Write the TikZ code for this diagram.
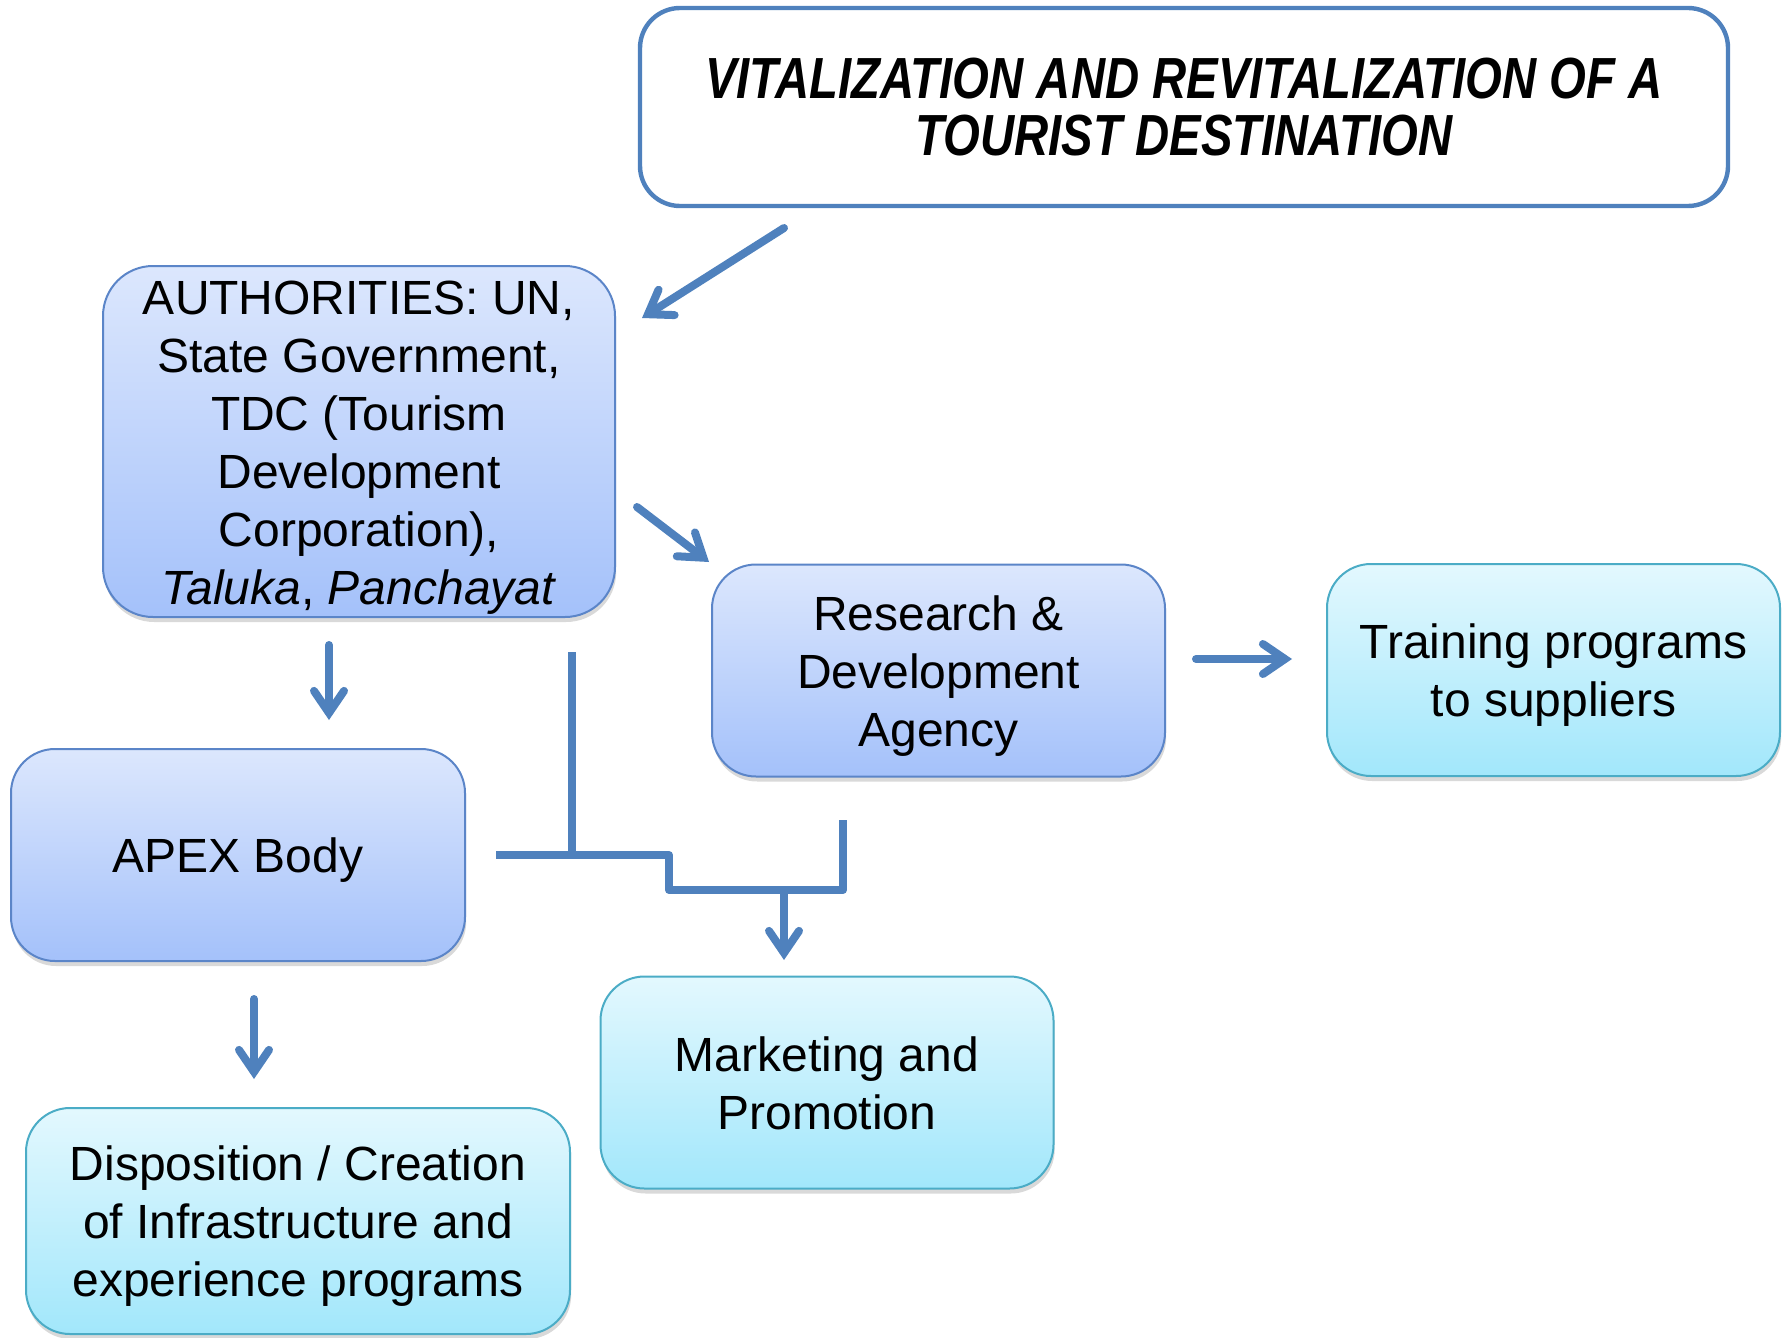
\documentclass[tikz,border=0pt]{standalone}
\usepackage{fontspec}
\setmainfont{Liberation Sans}
\newfontfamily\titlefont[FakeStretch=0.815]{Liberation Sans}
\usetikzlibrary{arrows.meta,shadows}
\definecolor{lineblue}{HTML}{4F81BD}
\definecolor{btop}{HTML}{DCE7FD}
\definecolor{bbot}{HTML}{A4C1FA}
\definecolor{bbord}{HTML}{5B85C8}
\definecolor{ctop}{HTML}{E3F8FE}
\definecolor{cbot}{HTML}{A2E7FB}
\definecolor{cbord}{HTML}{4BACC6}
\newcommand\lowtxt[1]{\raisebox{-3pt}[\height][\depth]{\begin{tabular}{@{}c@{}}#1\end{tabular}}}
\begin{document}
\begin{tikzpicture}[x=0.5pt,y=-0.5pt,
  box/.style={rounded corners=22pt, minimum width=226.5pt, minimum height=106pt,
    inner sep=0pt, align=center, font=\fontsize{24}{29}\selectfont, line width=1pt,
    drop shadow={shadow xshift=0.6pt, shadow yshift=-2.5pt, opacity=0.3}},
  bluebox/.style={box, draw=bbord, top color=btop, bottom color=bbot},
  cyanbox/.style={box, draw=cbord, top color=ctop, bottom color=cbot},
  topbox/.style={draw=lineblue, line width=2.2pt, fill=white, rounded corners=20pt,
    minimum width=544pt, minimum height=99pt, inner sep=0pt, align=center,
    font=\titlefont\bfseries\itshape\fontsize{29}{28.5}\selectfont},
  arr/.style={draw=lineblue, line width=4pt, line cap=round, line join=round,
    -{Straight Barb[length=11pt,width=15pt,line cap=round]}},
  conn/.style={draw=lineblue, line width=4pt, line join=round}
]
\useasboundingbox (0,0) rectangle (1791,1337);

\node[topbox] (top) at (1184,107) {VITALIZATION AND REVITALIZATION OF A\\ TOURIST DESTINATION};

\node[bluebox, rounded corners=25pt, minimum width=256pt, minimum height=175.5pt] (auth) at (359,441.5)
  {\lowtxt{AUTHORITIES: UN,\\ State Government,\\ TDC (Tourism\\ Development\\ Corporation),\\ \textit{Taluka}, \textit{Panchayat}}};

\node[bluebox] (rd) at (938.5,670.5) {\lowtxt{Research \&\\ Development\\ Agency}};
\node[cyanbox] (train) at (1553.5,670) {\lowtxt{Training programs\\ to suppliers}};
\node[bluebox, minimum width=227pt] (apex) at (238,855) {\lowtxt{APEX Body}};
\node[cyanbox] (mkt) at (827,1082.5) {\lowtxt{Marketing and\\ Promotion}};
\node[cyanbox, minimum width=272pt, minimum height=113pt] (disp) at (298,1221)
  {\lowtxt{Disposition / Creation\\ of Infrastructure and\\ experience programs}};

% arrow end points
\coordinate (a1s) at (784,228);  \coordinate (a1e) at (642,318);
\coordinate (a2s) at (637,507);  \coordinate (a2e) at (709,562);
\coordinate (a3s) at (329,645);  \coordinate (a3e) at (329,720);
\coordinate (a4s) at (254,999);  \coordinate (a4e) at (254,1079);
\coordinate (a5s) at (1196,659); \coordinate (a5e) at (1292,659);
% connector points
\coordinate (c1) at (572,652);  \coordinate (c2) at (572,855);
\coordinate (c3) at (843,820);  \coordinate (c4) at (843,890);
\coordinate (c5) at (669,890);  \coordinate (c6) at (669,855);
\coordinate (c7) at (496,855);
\coordinate (c8) at (784,890);  \coordinate (c9) at (784,960);

\draw[arr] (a1s) -- (a1e);
\draw[arr] (a2s) -- (a2e);
\draw[arr] (a3s) -- (a3e);
\draw[arr] (a4s) -- (a4e);
\draw[arr] (a5s) -- (a5e);

\draw[conn] (c1) -- (c2);
\draw[conn] (c3) -- (c4) -- (c5) -- (c6) -- (c7);
\draw[arr] (c8) -- (c9);
\end{tikzpicture}
\end{document}
